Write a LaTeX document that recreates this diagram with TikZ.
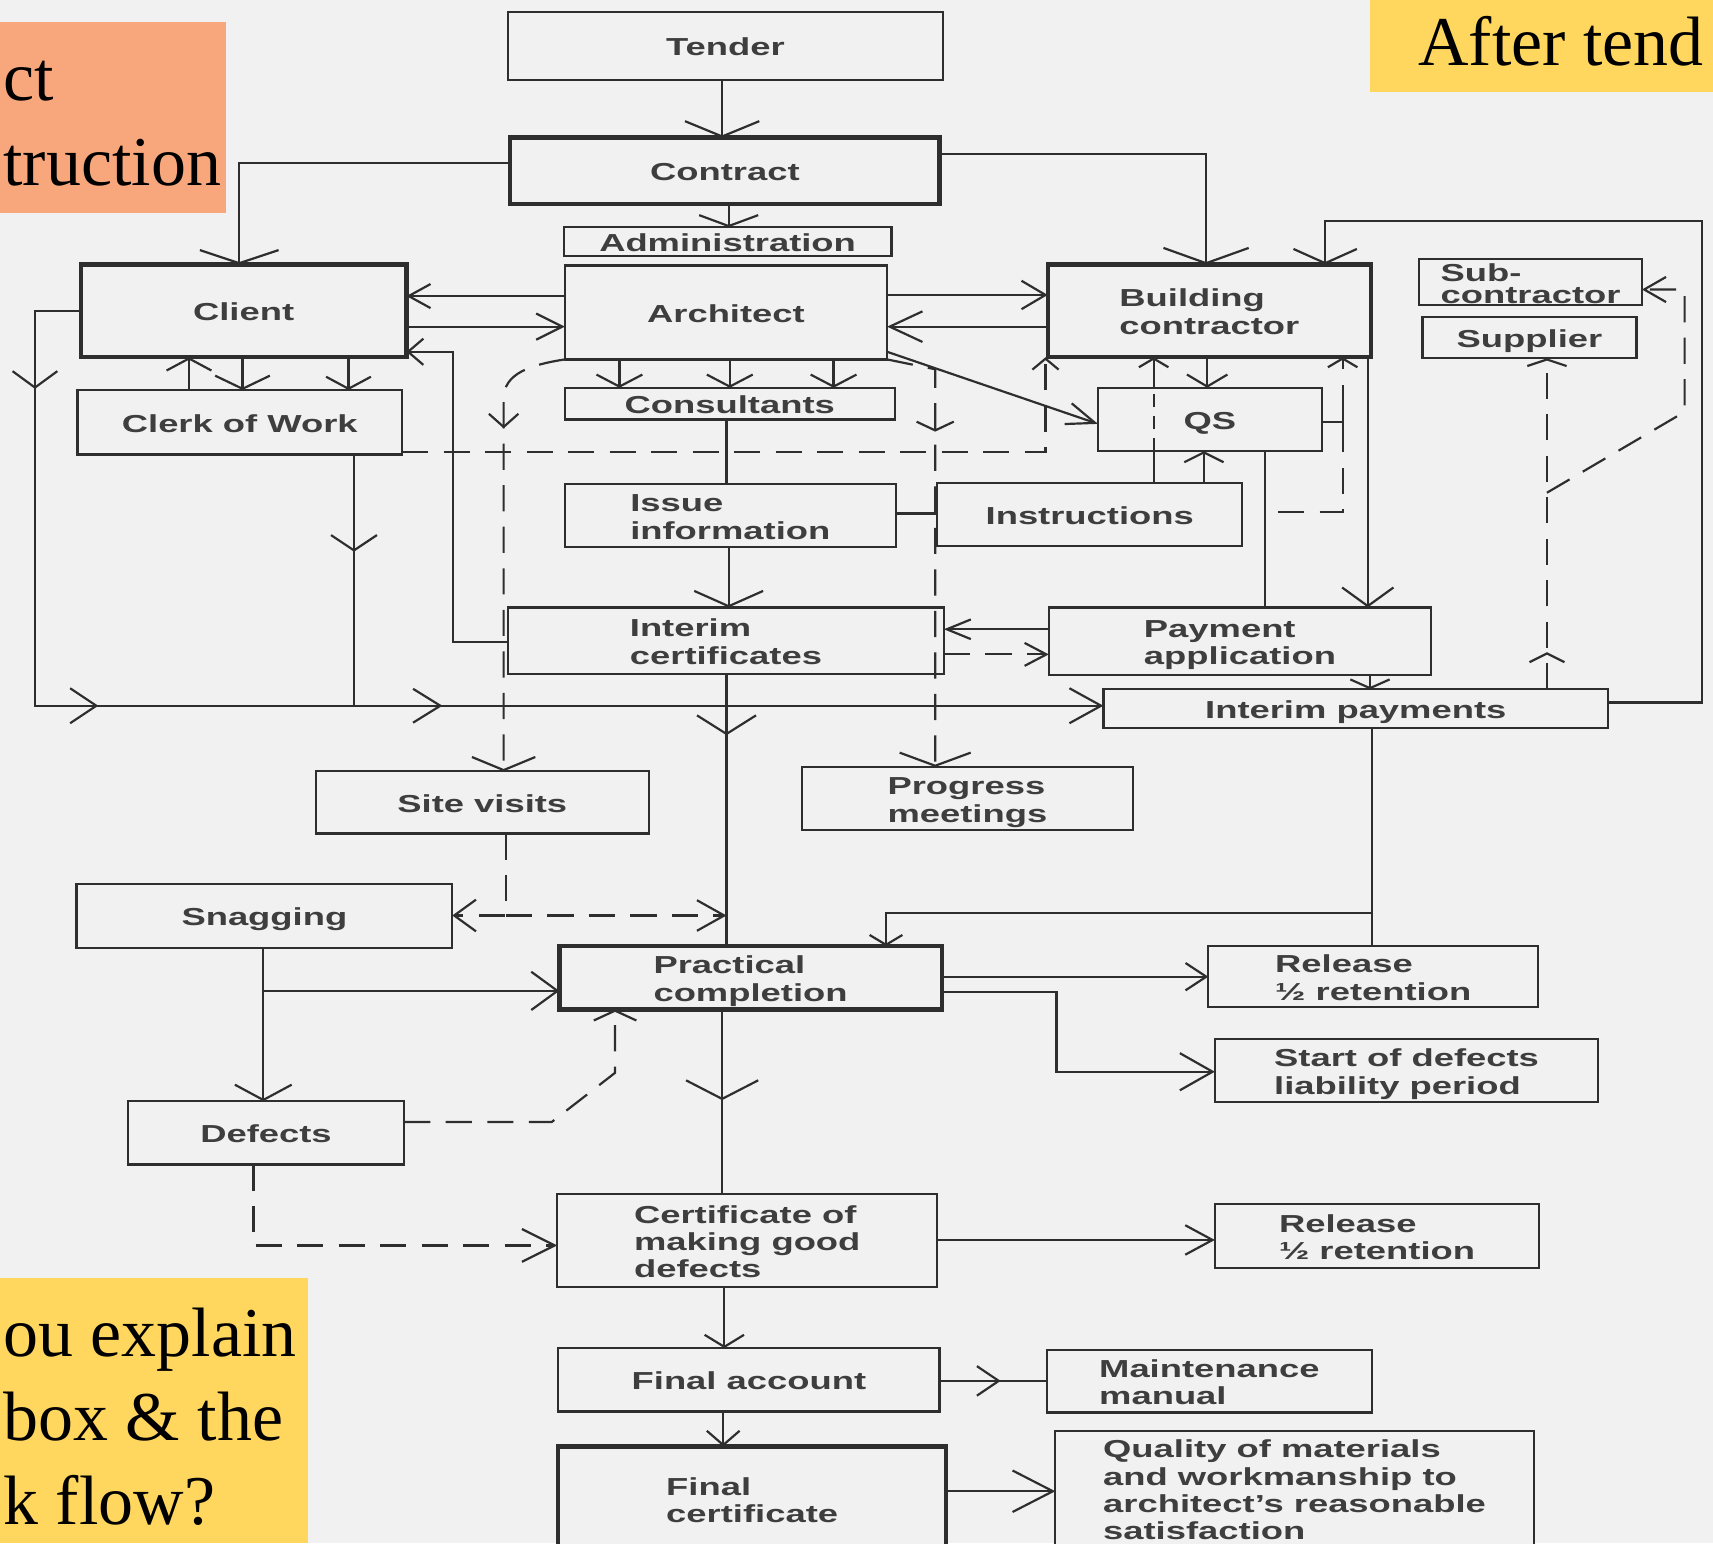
\documentclass[tikz,border=0pt]{standalone}
\usepackage{fontspec}
\usepackage{graphicx}
\usetikzlibrary{arrows.meta,decorations.markings,calc}
\newfontfamily\dgfont{Liberation Sans}
\newfontfamily\tmfont{Liberation Serif}
\definecolor{bgc}{HTML}{F1F1F1}
\definecolor{lnc}{HTML}{2E2E2E}
\definecolor{txc}{HTML}{3E3E3E}
\definecolor{orng}{HTML}{F7A77B}
\definecolor{yllw}{HTML}{FFD75E}
\newcommand\bxt[1]{\raisebox{-4pt}[\height][\depth]{\scalebox{1.48}[1]{\begin{tabular}{@{}l@{}}#1\end{tabular}}}}
\begin{document}
\begin{tikzpicture}[x=1pt,y=-1pt,
  box/.style={draw=lnc, line width=2pt, fill=bgc, inner sep=0pt, outer sep=0pt, text=txc,
    font=\dgfont\bfseries\fontsize{22.5pt}{25pt}\selectfont},
  tbox/.style={box, line width=4pt},
  ln/.style={draw=lnc, line width=2pt},
  dl/.style={ln, dash pattern=on 24pt off 14pt},
  ar/.style 2 args={-{Straight Barb[length=#1pt,width=#2pt]}},
  mida/.style n args={3}{postaction={decorate,decoration={markings,
      mark=at position #1 with {\arrow{Straight Barb[length=#2,width=#3]}}}}},
  tm/.style={font=\tmfont\fontsize{64pt}{77pt}\selectfont, inner sep=0pt, text=black}
]
\useasboundingbox (0,0) rectangle (1568,1412.4);
\clip (0,0) rectangle (1568,1412.4);
\fill[bgc] (0,0) rectangle (1568,1412.4);

% ---------- boxes ----------
\node[box, minimum width=398pt, minimum height=62pt] (tender) at (664,42) {\bxt{Tender}};
\node[tbox, minimum width=393pt, minimum height=61pt] (contract) at (663.5,156.5) {\bxt{Contract}};
\node[box, minimum width=300pt, minimum height=26pt] (admin) at (666,221) {\bxt{Administration}};
\node[box, minimum width=295pt, minimum height=86pt] (architect) at (664.5,286) {\bxt{Architect}};
\node[tbox, minimum width=298pt, minimum height=85pt] (client) at (223,284.5) {\bxt{Client}};
\node[box, minimum width=297pt, minimum height=59pt] (clerk) at (219.5,386.5) {\bxt{Clerk of Work}};
\node[box, minimum width=302pt, minimum height=29pt] (consult) at (668,369.5) {\bxt{Consultants}};
\node[tbox, minimum width=296pt, minimum height=85pt] (bc) at (1107,284.5) {\bxt{Building\\contractor}};
\node[box, minimum width=204pt, minimum height=40pt, font=\dgfont\bfseries\fontsize{22.5pt}{18pt}\selectfont] (sub) at (1401,258) {\bxt{Sub-\\contractor}};
\node[box, minimum width=196pt, minimum height=38pt] (supplier) at (1400,309) {\bxt{Supplier}};
\node[box, minimum width=205pt, minimum height=58pt] (qs) at (1107.5,384) {\bxt{QS}};
\node[box, minimum width=303pt, minimum height=58pt] (issue) at (668.5,472) {\bxt{Issue\\information}};
\node[box, minimum width=279pt, minimum height=58pt] (instr) at (997.5,471) {\bxt{Instructions}};
\node[box, minimum width=399pt, minimum height=61pt] (icert) at (664.5,586.5) {\bxt{Interim\\certificates}};
\node[box, minimum width=350pt, minimum height=62pt] (payapp) at (1135,587) {\bxt{Payment\\application}};
\node[box, minimum width=462pt, minimum height=35pt] (ipay) at (1241,648.5) {\bxt{Interim payments}};
\node[box, minimum width=305pt, minimum height=57pt] (site) at (441.5,734.5) {\bxt{Site visits}};
\node[box, minimum width=303pt, minimum height=58pt] (progress) at (885.5,731) {\bxt{Progress\\meetings}};
\node[box, minimum width=344pt, minimum height=59pt] (snag) at (242,838.5) {\bxt{Snagging}};
\node[tbox, minimum width=350pt, minimum height=58pt] (practical) at (687,895) {\bxt{Practical\\completion}};
\node[box, minimum width=302pt, minimum height=56pt] (rel1) at (1257,894) {\bxt{Release\\½ retention}};
\node[box, minimum width=351pt, minimum height=58pt] (start) at (1287.5,980) {\bxt{Start of defects\\liability period}};
\node[box, minimum width=253pt, minimum height=58pt] (defects) at (243.5,1037) {\bxt{Defects}};
\node[box, minimum width=348pt, minimum height=85pt] (cert) at (684,1135.5) {\bxt{Certificate of\\making good\\defects}};
\node[box, minimum width=297pt, minimum height=59pt] (rel2) at (1260.5,1131.5) {\bxt{Release\\½ retention}};
\node[box, minimum width=349pt, minimum height=58pt] (finalacc) at (685.5,1263) {\bxt{Final account}};
\node[box, minimum width=298pt, minimum height=57pt] (maint) at (1107,1264.5) {\bxt{Maintenance\\manual}};
\node[tbox, minimum width=355pt, minimum height=96pt] (finalcert) at (688.5,1372) {\bxt{Final\\certificate}};
\node[box, minimum width=438pt, minimum height=106pt] (quality) at (1185,1363) {\bxt{Quality of materials\\and workmanship to\\architect’s reasonable\\satisfaction}};

% ---------- junction coordinates ----------
\coordinate (sj) at (463,838);
\coordinate (mj) at (665,838);
\coordinate (ij) at (1170,469);
\coordinate (dj) at (1416,451);
\coordinate (pj) at (1256,836);
\coordinate (nj) at (241,907);
\coordinate (cj) at (324,646);

% ---------- connectors ----------
\draw[ln,ar={14}{68}] (tender.south -| 661,0) -- (contract.north -| 661,0);
\draw[ln,ar={12}{72}] (contract.west |- 0,149) -| (client.north -| 219,0);
\draw[ln,ar={14}{78}] (contract.east |- 0,141) -| (bc.north -| 1104,0);
\draw[ln,ar={10}{54}] (contract.south -| 667,0) -- (admin.north -| 667,0);

\draw[ln,ar={20}{22}] (architect.west |- 0,271) -- (client.east |- 0,271);
\draw[ln,ar={24}{24}] (client.east |- 0,299) -- (architect.west |- 0,299);
\draw[ln,ar={14}{24}] (icert.west |- 0,588) -- (415,588) -- (415,322) -- (client.east |- 0,322);

\draw[ln,ar={29}{32},mida={113pt}{15pt}{41pt},mida={461pt}{24pt}{32pt},mida={776pt}{25pt}{31pt}]
  (client.west |- 0,285) -- (32,285) -- (32,646) -- (ipay.west |- 0,646);
\draw[ln,mida={89pt}{14pt}{42pt}] (clerk.south -| cj) -- (cj);

\draw[ln,ar={11}{41}] (clerk.north -| 173,0) -- (client.south -| 173,0);
\draw[ln,ar={12}{50}] (client.south -| 222,0) -- (clerk.north -| 222,0);
\draw[ln,ar={11}{41}] (client.south -| 319,0) -- (clerk.north -| 319,0);

\draw[dl,ar={10}{24}] (clerk.east |- 0,414) -- (957,414) -- (bc.south -| 957,0);

\draw[dl,ar={12}{58},mida={100pt}{12pt}{27pt}] (architect.south west) .. controls (485,334) and (461,342) .. (461,365) -- (site.north -| 461,0);
\draw[dl,ar={20}{29}] (site.south -| sj) -- (sj) -- (snag.east |- sj);
\draw[dl,ar={25}{28}] (sj) -- (mj);

\draw[dl,ar={12}{65},mida={102pt}{8pt}{34pt}] (architect.south east) -- (856,338) -- (progress.north -| 856,0);
\draw[ln,ar={26}{20}] (architect.east |- 0,322) -- (qs.west |- 0,388);
\draw[ln,ar={22}{26}] (architect.east |- 0,270) -- (bc.west |- 0,270);
\draw[ln,ar={30}{28}] (bc.west |- 0,299) -- (architect.east |- 0,299);
\foreach \xx in {567,668,763}
  \draw[ln,ar={11}{42}] (architect.south -| \xx,0) -- (consult.north -| \xx,0);

\draw[ln] (consult.south -| 665,0) -- (issue.north -| 665,0);
\draw[ln] (issue.east |- 0,470) -- (instr.west |- 0,470);
\draw[ln,ar={14}{63}] (issue.south -| 667,0) -- (icert.north -| 667,0);
\draw[ln,mida={56pt}{17pt}{54pt}] (icert.south -| 665,0) -- (practical.north -| 665,0);
\draw[ln,ar={22}{18}] (payapp.west |- 0,576) -- (icert.east |- 0,576);
\draw[dl,ar={20}{21}] (icert.east |- 0,599) -- (payapp.west |- 0,599);

\draw[ln] (instr.north -| 1056,0) -- (qs.south -| 1056,0);
\draw[ln,dash pattern=on 12pt off 8pt] (qs.south -| 1056,0) -- (qs.north -| 1056,0);
\draw[ln,ar={8}{27}] (qs.north -| 1056,0) -- (bc.south -| 1056,0);
\draw[ln,ar={11}{37}] (bc.south -| 1105,0) -- (qs.north -| 1105,0);
\draw[ln,ar={9}{36}] (instr.north -| 1102,0) -- (qs.south -| 1102,0);
\draw[dl,ar={8}{27}] (ij) -- (1229,469) -- (bc.south -| 1229,0);
\draw[ln] (qs.east |- 0,386) -- (1229,386) ++(0,-10) -- ++(0,20);
\draw[ln] (qs.south -| 1158,0) -- (payapp.north -| 1158,0);
\draw[ln,ar={17}{47}] (bc.south -| 1252,0) -- (payapp.north -| 1252,0);
\draw[ln,ar={8}{36}] (payapp.south -| 1254,0) -- (ipay.north -| 1254,0);

\draw[dl,ar={6}{36},mida={34pt}{8pt}{32pt}] (ipay.north -| 1416,0) -- (supplier.south -| 1416,0);
\draw[dl,ar={20}{23}] (dj) -- (1542,377) -- (1542,265) -- (sub.east |- 0,265);
\draw[ln,ar={13}{58}] (ipay.east |- 0,643) -- (1558,643) -- (1558,202) -- (1213,202) -- (bc.north -| 1213,0);

\draw[ln] (ipay.south -| pj) -- (rel1.north -| pj);
\draw[ln,ar={9}{30}] (pj) -- (811,836) -- (practical.north -| 811,0);
\draw[ln,ar={19}{25}] (practical.east |- 0,894) -- (rel1.west |- 0,894);
\draw[ln,ar={30}{34}] (practical.east |- 0,908) -- (967,908) -- (967,981) -- (start.west |- 0,981);

\draw[ln,ar={14}{52}] (snag.south -| nj) -- (defects.north -| nj);
\draw[ln,ar={24}{35}] (nj) -- (practical.west |- nj);
\draw[dl,ar={9}{39}] (defects.east |- 0,1027) -- (505,1027) -- (563,982) -- (practical.south -| 563,0);
\draw[dl,ar={30}{30}] (defects.south -| 232,0) |- (cert.west |- 0,1140);

\draw[ln,mida={83pt}{17pt}{66pt}] (practical.south -| 661,0) -- (cert.north -| 661,0);
\draw[ln,ar={25}{27}] (cert.east |- 0,1135) -- (rel2.west |- 0,1135);
\draw[ln,ar={11}{36}] (cert.south -| 663,0) -- (finalacc.north -| 663,0);
\draw[ln,mida={56pt}{20pt}{27pt}] (finalacc.east |- 0,1264) -- (maint.west |- 0,1264);
\draw[ln,ar={13}{30}] (finalacc.south -| 662,0) -- (finalcert.north -| 662,0);
\draw[ln,ar={37}{38}] (finalcert.east |- 0,1365) -- (quality.west |- 0,1365);

% ---------- slide call-outs ----------
\fill[orng] (0,20) rectangle (207,195);
\node[tm, anchor=base west] (o1) at (3,92) {ct};
\node[tm, anchor=base west] (o2) at (3,170) {truction};
\fill[yllw] (1254,0) rectangle (1568,84);
\node[tm, anchor=base west] (y1) at (1298,60) {After tend};
\fill[yllw] (0,1170) rectangle (282,1412.4);
\node[tm, anchor=base west] (y2) at (3,1242) {ou explain};
\node[tm, anchor=base west] (y3) at (3,1319) {box \& the};
\node[tm, anchor=base west] (y4) at (3,1395) {k flow?};
\end{tikzpicture}
\end{document}
